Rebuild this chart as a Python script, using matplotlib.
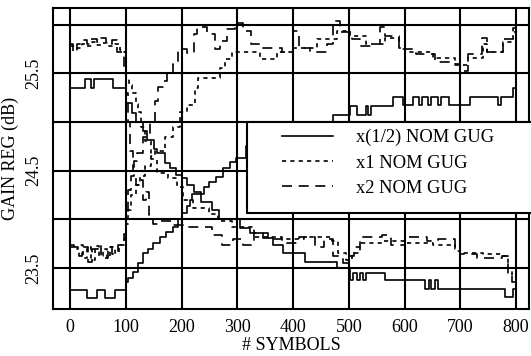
import numpy as np
import matplotlib
matplotlib.use('Agg')
import matplotlib.pyplot as plt
from matplotlib.patches import Rectangle

plt.rcParams['font.family'] = 'Liberation Serif'
plt.rcParams['font.size'] = 13

# x(1/2) NOM GUG, two runs (start high / start low)
sol_hi_x = [0, 27, 38, 43, 77, 100, 111, 118, 131, 138, 150, 156, 170, 180, 190, 201, 210, 222, 235, 255,
            268, 305, 323, 346, 364, 382, 421, 479, 502, 508, 515, 520, 526, 531, 565, 637, 643, 648, 655, 660,
            665, 780, 795, 800]
sol_hi_y = [25.35, 25.44, 25.35, 25.44, 25.35, 25.19, 25.09, 25.0, 24.91, 24.81, 24.72, 24.68, 24.58, 24.53, 24.46,
            24.42, 24.35, 24.28, 24.18, 24.1, 24.0, 23.91, 23.86, 23.81, 23.74, 23.65, 23.56, 23.5, 23.38, 23.45,
            23.38, 23.45, 23.38, 23.45, 23.38, 23.29, 23.38, 23.29, 23.38, 23.29, 23.29, 23.2, 23.29, 23.29]
sol_lo_x = [0, 30, 48, 63, 81, 100, 104, 113, 122, 131, 140, 149, 161, 173, 185, 194, 200, 210, 215, 219,
            240, 250, 262, 275, 287, 298, 315, 340, 390, 435, 472, 502, 515, 530, 534, 539, 580, 597, 615, 625,
            632, 642, 648, 660, 665, 680, 717, 768, 773, 795, 800]
sol_lo_y = [23.27, 23.19, 23.27, 23.19, 23.27, 23.36, 23.4, 23.46, 23.55, 23.65, 23.7, 23.76, 23.82, 23.87, 23.92,
            24.0, 24.07, 24.14, 24.2, 24.26, 24.33, 24.38, 24.43, 24.53, 24.59, 24.63, 24.75, 24.85, 24.95, 25.0,
            25.07, 25.16, 25.07, 25.16, 25.07, 25.16, 25.26, 25.17, 25.26, 25.17, 25.26, 25.17, 25.26, 25.17, 25.26,
            25.17, 25.26, 25.17, 25.26, 25.35, 25.35]

# x1 NOM GUG
dot_hi_x = [0, 10, 22, 28, 40, 46, 58, 66, 80, 90, 97, 100, 105, 111, 118, 122, 128, 135, 145, 156,
            175, 192, 203, 221, 250, 265, 290, 330, 380, 420, 470, 480, 495, 505, 520, 560, 600, 650, 690, 700,
            740, 775, 785, 793, 800]
dot_hi_y = [25.78, 25.76, 25.80, 25.78, 25.82, 25.79, 25.81, 25.78, 25.80, 25.74, 25.72, 25.45, 25.38, 25.30, 25.18,
            25.10, 24.95, 24.80, 24.62, 24.48, 24.42, 24.33, 24.20, 24.12, 24.06, 23.98, 23.92, 23.82, 23.80, 23.82,
            23.78, 23.65, 23.58, 23.66, 23.76, 23.78, 23.76, 23.74, 23.70, 23.65, 23.64, 23.62, 23.50, 23.42, 23.42]
dot_lo_x = [0, 8, 14, 24, 30, 38, 44, 52, 60, 66, 72, 80, 88, 97, 100, 104, 110, 118, 125, 135,
            145, 152, 170, 185, 197, 210, 224, 230, 269, 278, 290, 340, 371, 400, 443, 479, 502, 530, 565, 590,
            600, 650, 690, 713, 740, 748, 777, 795, 800]
dot_lo_y = [23.72, 23.70, 23.74, 23.60, 23.72, 23.58, 23.73, 23.62, 23.70, 23.60, 23.72, 23.66, 23.74, 23.80, 23.95,
            24.10, 24.25, 24.35, 24.45, 24.55, 24.65, 24.70, 24.85, 24.95, 25.10, 25.17, 25.35, 25.45, 25.55, 25.65,
            25.72, 25.65, 25.72, 25.76, 25.85, 25.93, 25.88, 25.80, 25.86, 25.76, 25.72, 25.66, 25.58, 25.66, 25.80,
            25.72, 25.82, 25.92, 25.92]

# x2 NOM GUG
dash_hi_x = [0, 6, 12, 20, 30, 38, 48, 55, 65, 75, 85, 93, 97, 100, 104, 108, 113, 118, 125, 130,
             136, 142, 149, 160, 185, 203, 255, 272, 292, 310, 330, 355, 380, 410, 440, 455, 472, 490, 500, 510,
             520, 560, 575, 600, 640, 660, 690, 700, 730, 775, 785, 793, 800]
dash_hi_y = [25.80, 25.72, 25.80, 25.84, 25.80, 25.85, 25.82, 25.86, 25.80, 25.84, 25.72, 25.70, 25.55, 25.30, 25.0,
             24.70, 24.50, 24.35, 24.40, 24.20, 24.28, 24.05, 23.95, 23.98, 23.94, 23.92, 23.84, 23.74, 23.80, 23.74,
             23.86, 23.80, 23.76, 23.82, 23.72, 23.80, 23.62, 23.55, 23.62, 23.72, 23.82, 23.84, 23.74, 23.82, 23.78,
             23.80, 23.68, 23.64, 23.60, 23.62, 23.45, 23.36, 23.36]
dash_lo_x = [0, 8, 16, 22, 32, 40, 50, 56, 68, 76, 86, 97, 100, 104, 110, 115, 120, 130, 143, 152,
             158, 167, 174, 185, 194, 210, 222, 228, 245, 260, 269, 282, 295, 310, 325, 345, 380, 400, 410, 430,
             460, 472, 485, 505, 520, 545, 556, 565, 590, 620, 655, 690, 700, 713, 739, 748, 777, 795, 800]
dash_lo_y = [23.74, 23.72, 23.62, 23.72, 23.56, 23.70, 23.74, 23.60, 23.72, 23.64, 23.74, 23.85, 24.00, 24.30, 24.45,
             24.60, 24.68, 24.85, 25.00, 25.22, 25.36, 25.42, 25.50, 25.60, 25.75, 25.71, 25.90, 25.98, 25.90, 25.75,
             25.83, 25.95, 26.02, 25.93, 25.80, 25.76, 25.72, 25.93, 25.76, 25.72, 25.80, 26.04, 25.92, 25.85, 25.78,
             25.80, 25.98, 25.88, 25.75, 25.70, 25.62, 25.60, 25.52, 25.70, 25.86, 25.72, 25.85, 25.96, 25.96]

labels = ['x(1/2) NOM GUG', 'x1 NOM GUG', 'x2 NOM GUG']
xticks = [0, 100, 200, 300, 400, 500, 600, 700, 800]
yticks = [23.5, 24.0, 24.5, 25.0, 25.5, 26.0]
ytick_labels = ['23.5', '', '24.5', '', '25.5', '']

fig = plt.figure(figsize=(5.31, 3.56), dpi=100)
ax = fig.add_axes([53/531, 1 - 309/356, 476/531, 301/356])

styles = ['-', (0, (2.5, 2.5)), (0, (6, 4))]
runs = [(sol_hi_x, sol_hi_y, sol_lo_x, sol_lo_y),
        (dot_hi_x, dot_hi_y, dot_lo_x, dot_lo_y),
        (dash_hi_x, dash_hi_y, dash_lo_x, dash_lo_y)]
handles = []
for (xh, yh, xl, yl), ls in zip(runs, styles):
    h, = ax.step(xh, yh, where='post', color='k', lw=1.2, ls=ls, zorder=2)
    ax.step(xl, yl, where='post', color='k', lw=1.2, ls=ls, zorder=2)
    handles.append(h)

ax.set_xlim(-30.5, 823)
ax.set_ylim(23.08, 26.17)
ax.set_xticks(xticks)
ax.set_yticks(yticks)
ax.set_yticklabels(ytick_labels, rotation=90, va='center')
ax.tick_params(length=0)
ax.tick_params(axis='y', pad=8)
ax.tick_params(axis='x', pad=7)
ax.grid(True, color='k', lw=1.5)
for s in ax.spines.values():
    s.set_linewidth(1.5)

ax.set_xlabel('# SYMBOLS', labelpad=1)
ax.set_ylabel('GAIN REG (dB)', labelpad=4)

box = Rectangle((0.4076, 0.319), 0.61, 0.302, transform=ax.transAxes,
                facecolor='white', edgecolor='black', lw=1.5, zorder=3, clip_on=False)
ax.add_patch(box)
leg = ax.legend(handles, labels, loc='upper left', bbox_to_anchor=(0.481, 0.598),
                frameon=False, borderpad=0, borderaxespad=0, handlelength=2.78,
                handletextpad=1.25, labelspacing=0.45, fontsize=13.3)
leg.set_zorder(4)

fig.savefig('out.png', dpi=100)
